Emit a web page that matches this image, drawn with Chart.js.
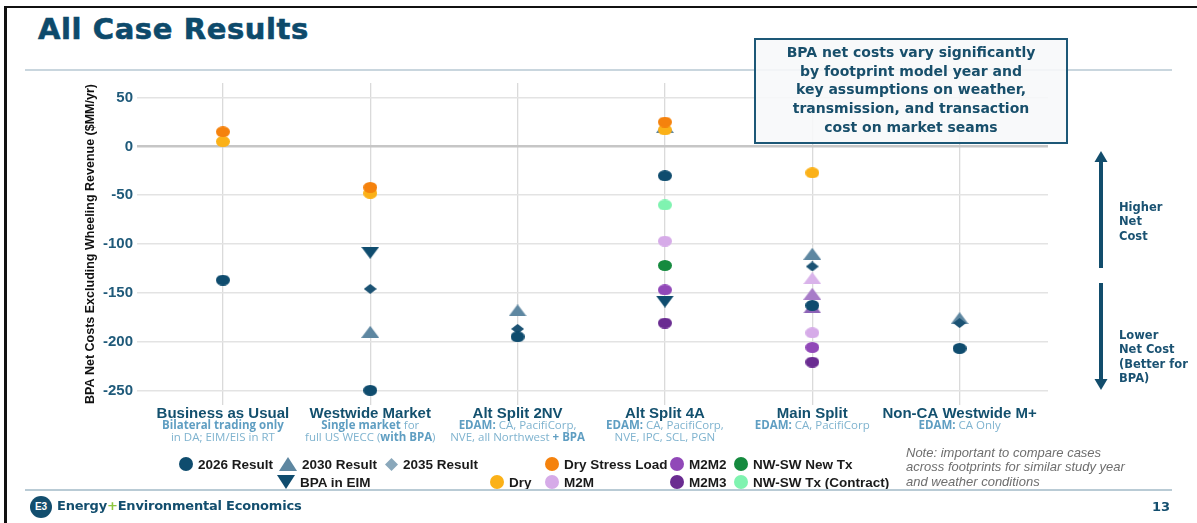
<!DOCTYPE html>
<html>
<head>
<meta charset="utf-8">
<script src="https://cdn.jsdelivr.net/npm/chart.js@4.4.1/dist/chart.umd.min.js"></script>
<style>
  html, body { margin: 0; padding: 0; background: #fff; }
  body { width: 1197px; height: 523px; position: relative; overflow: hidden; font-family: "Liberation Sans", Arial, sans-serif; }
  #frame { position: absolute; left: 4px; top: 6px; width: 1300px; height: 600px; border-left: 3px solid #111; border-top: 2px solid #111; }
  #title { position: absolute; left: 38px; top: 12px; font: bold 29px "DejaVu Sans", sans-serif; color: #0d4a6b; letter-spacing: 0.6px; -webkit-text-stroke: 0.6px #0d4a6b; }
  .rule { position: absolute; height: 2px; background: #c9d6de; }
  #chart { position: absolute; left: 0; top: 0; }
  #box { position: absolute; left: 754px; top: 38px; width: 310px; height: 99px; border: 2px solid #1d5877;
         background: rgba(247,248,249,0.88); font: bold 14px "DejaVu Sans", sans-serif; color: #184f6b;
         text-align: center; line-height: 18.7px; padding-top: 3px; box-sizing: content-box; }
  .side { position: absolute; left: 1119px; font: bold 11.5px "DejaVu Sans", sans-serif; color: #1a5272; line-height: 14.4px; }
  #legend { position: absolute; left: 0; top: 0; }
  .lg { position: absolute; display: flex; align-items: center; font: bold 13.5px "Liberation Sans", Arial, sans-serif; color: #1a1a1a; white-space: nowrap; }
  .lg canvas { margin-right: 5px; }
  #note { position: absolute; left: 906px; top: 446px; font: italic 13px "Liberation Sans", Arial, sans-serif; color: #6e6e6e; line-height: 14.3px; }
  #logo { position: absolute; left: 30px; top: 496px; width: 22px; height: 22px; border-radius: 50%; background: #134e6e;
          color: #fff; font: bold 10px "Liberation Sans", Arial, sans-serif; text-align: center; line-height: 22px; }
  #brand { position: absolute; left: 57px; top: 498px; font: bold 13px "DejaVu Sans", sans-serif; color: #134e6e; letter-spacing: -0.2px; }
  #brand span { color: #8cc540; }
  #page { position: absolute; left: 1152px; top: 499px; font: bold 13px "DejaVu Sans", sans-serif; color: #134e6e; }
</style>
</head>
<body>
<div id="frame"></div>
<div id="title">All Case Results</div>
<div class="rule" style="left:25px; top:69px; width:1147px;"></div>
<canvas id="chart" width="1197" height="523"></canvas>
<div id="box">BPA net costs vary significantly<br>by footprint model year and<br>key assumptions on weather,<br>transmission, and transaction<br>cost on market seams</div>

<svg style="position:absolute; left:1081px; top:145px;" width="40" height="260">
  <line x1="20" y1="14" x2="20" y2="123" stroke="#124d6c" stroke-width="4"/>
  <polygon points="20,6 13.5,17 26.5,17" fill="#124d6c"/>
  <line x1="20" y1="138" x2="20" y2="236" stroke="#124d6c" stroke-width="4"/>
  <polygon points="20,245 13.5,234 26.5,234" fill="#124d6c"/>
</svg>
<div class="side" style="top:200px;">Higher<br>Net<br>Cost</div>
<div class="side" style="top:328px;">Lower<br>Net Cost<br>(Better for<br>BPA)</div>

<div id="legend"></div>
<div id="note">Note: important to compare cases<br>across footprints for similar study year<br>and weather conditions</div>
<div class="rule" style="left:25px; top:489px; width:1147px; height:1.5px; background:#b9cbd5;"></div>
<div id="logo">E3</div>
<div id="brand">Energy<span>+</span>Environmental Economics</div>
<div id="page">13</div>

<script>
// categories (x positions 0..5)
const categories = ['Business as Usual', 'Westwide Market', 'Alt Split 2NV', 'Alt Split 4A', 'Main Split', 'Non-CA Westwide M+'];
// sub labels: [text, bold]
const subtitles = [
  [[['Bilateral trading only', 1]], [['in DA; EIM/EIS in RT', 0]]],
  [[['Single market', 1], [' for', 0]], [['full US WECC (', 0], ['with BPA', 1], [')', 0]]],
  [[['EDAM:', 1], [' CA, PacifiCorp,', 0]], [['NVE, all Northwest ', 0], ['+ BPA', 1]]],
  [[['EDAM:', 1], [' CA, PacifiCorp,', 0]], [['NVE, IPC, SCL, PGN', 0]]],
  [[['EDAM:', 1], [' CA, PacifiCorp', 0]]],
  [[['EDAM:', 1], [' CA Only', 0]]]
];
const yTicks = [50, 0, -50, -100, -150, -200, -250];

// BPA net costs ($MM/yr), one value per category, null = no result
const result2026     = [-137, -250, -195, -30, -163, -207];
const result2030     = [null, -190, -168, 20, -110, -176];
const result2035     = [null, -146, -187, null, -123, -181];
const bpaInEim       = [null, -109, null, -159, null, null];
const dryStressLoad  = [15, -42, null, 25, null, null];
const dry            = [5, -48, null, 17, -27, null];
const m2m            = [null, null, null, -97, -191, null];
const m2m2           = [null, null, null, -147, -206, null];
const m2m3           = [null, null, null, -181, -221, null];
const nwswNewTx      = [null, null, null, -122, null, null];
const nwswContract   = [null, null, null, -60, null, null];
const m2m2030        = [null, null, null, null, -135, null];
const m2m2_2030      = [null, null, null, null, -151, null];
const m2m3_2030      = [null, null, null, null, -165, null];

function marker(shape, color, w, h) {
  const c = document.createElement('canvas');
  c.width = w; c.height = h;
  const g = c.getContext('2d');
  g.fillStyle = color;
  g.beginPath();
  if (shape === 'circle') g.ellipse(w / 2, h / 2, w / 2, h / 2, 0, 0, Math.PI * 2);
  else if (shape === 'up') { g.moveTo(w / 2, 0); g.lineTo(w, h); g.lineTo(0, h); }
  else if (shape === 'down') { g.moveTo(0, 0); g.lineTo(w, 0); g.lineTo(w / 2, h); }
  else { g.moveTo(w / 2, 0); g.lineTo(w, h / 2); g.lineTo(w / 2, h); g.lineTo(0, h / 2); }
  g.closePath();
  g.fill();
  return c;
}
const size = { circle: [14, 11], up: [18, 12], down: [18, 12], diamond: [13, 10] };

// first entry is drawn on top
const series = [
  { values: result2026,    shape: 'circle',  color: '#0f4c6e' },
  { values: result2035,    shape: 'diamond', color: '#1b5273' },
  { values: dryStressLoad, shape: 'circle',  color: '#f5820d' },
  { values: bpaInEim,      shape: 'down',    color: '#0f4c6e' },
  { values: dry,           shape: 'circle',  color: '#fbb118' },
  { values: result2030,    shape: 'up',      color: '#5e87a1' },
  { values: nwswContract,  shape: 'circle',  color: '#7ff3b0' },
  { values: nwswNewTx,     shape: 'circle',  color: '#158a3e' },
  { values: m2m,           shape: 'circle',  color: '#d6abe8' },
  { values: m2m2,          shape: 'circle',  color: '#9148b8' },
  { values: m2m3,          shape: 'circle',  color: '#6a2c91' },
  { values: m2m2030,       shape: 'up',      color: '#d9b3ea' },
  { values: m2m2_2030,     shape: 'up',      color: '#a77cc8' },
  { values: m2m3_2030,     shape: 'up',      color: '#8c62b6' }
];

const datasets = series.map(s => ({
  data: categories.map((c, i) => ({ x: i, y: s.values[i] })).filter(p => p.y !== null),
  pointStyle: marker(s.shape, s.color, size[s.shape][0], size[s.shape][1]),
  pointRadius: 7,
  backgroundColor: s.color,
  borderWidth: 0
}));

function drawSegs(ctx, segs, cx, y) {
  const fonts = ['11.5px "Open Sans"', 'bold 11.5px "Open Sans"'];
  let total = 0;
  segs.forEach(s => { ctx.font = fonts[s[1]]; total += ctx.measureText(s[0]).width; });
  let x = cx - total / 2;
  ctx.textAlign = 'left';
  segs.forEach(s => {
    ctx.font = fonts[s[1]];
    ctx.fillStyle = s[1] ? '#5f9ec2' : '#7fb3cf';
    ctx.fillText(s[0], x, y);
    x += ctx.measureText(s[0]).width;
  });
}

const categoryLabels = {
  id: 'categoryLabels',
  afterDraw(chart) {
    const ctx = chart.ctx;
    const x = chart.scales.x;
    const base = chart.chartArea.bottom;
    ctx.save();
    ctx.textBaseline = 'middle';
    categories.forEach((name, i) => {
      const cx = x.getPixelForValue(i);
      ctx.font = 'bold 15px "Liberation Sans", Arial';
      ctx.fillStyle = '#13506e';
      ctx.textAlign = 'center';
      ctx.fillText(name, cx, base + 9);
      subtitles[i].forEach((segs, j) => drawSegs(ctx, segs, cx, base + 21 + j * 12));
    });
    ctx.restore();
  }
};

new Chart(document.getElementById('chart'), {
  type: 'scatter',
  data: { datasets },
  options: {
    responsive: false,
    animation: false,
    devicePixelRatio: 1,
    layout: { padding: { left: 80, top: 83, right: 149, bottom: 118 } },
    plugins: { legend: { display: false }, tooltip: { enabled: false } },
    scales: {
      x: {
        type: 'linear', min: -0.583, max: 5.6,
        afterBuildTicks: s => { s.ticks = categories.map((c, i) => ({ value: i })); },
        ticks: { display: false },
        grid: { color: '#dadada', lineWidth: 1.3, drawTicks: false },
        border: { display: false },
        afterFit: s => { s.height = 0; }
      },
      y: {
        min: -265, max: 65,
        afterBuildTicks: s => { s.ticks = yTicks.map(v => ({ value: v })); },
        ticks: { color: '#1f5a7a', font: { family: '"Liberation Sans", Arial', size: 15, weight: 'bold' }, padding: 4 },
        grid: {
          color: c => c.tick && c.tick.value === 0 ? '#c6c6c6' : '#e3e3e3',
          lineWidth: c => c.tick && c.tick.value === 0 ? 2.5 : 1.5,
          drawTicks: false
        },
        border: { display: false },
        title: {
          display: true,
          text: 'BPA Net Costs Excluding Wheeling Revenue ($MM/yr)',
          color: '#111',
          font: { family: '"Liberation Sans Narrow", "Liberation Sans", Arial', size: 12.5, weight: 'bold' },
          padding: { top: 3, bottom: 0 }
        },
        afterFit: s => { s.width = 57; }
      }
    }
  },
  plugins: [categoryLabels]
});

// legend
const legendItems = [
  { label: '2026 Result', shape: 'circle', color: '#0f4c6e', x: 179, y: 464 },
  { label: '2030 Result', shape: 'up', color: '#5e87a1', x: 279, y: 464 },
  { label: '2035 Result', shape: 'diamond', color: '#8aa8bb', x: 385, y: 464 },
  { label: 'Dry Stress Load', shape: 'circle', color: '#f5820d', x: 545, y: 464 },
  { label: 'M2M2', shape: 'circle', color: '#9148b8', x: 670, y: 464 },
  { label: 'NW-SW New Tx', shape: 'circle', color: '#158a3e', x: 734, y: 464 },
  { label: 'BPA in EIM', shape: 'down', color: '#0f4c6e', x: 277, y: 482 },
  { label: 'Dry', shape: 'circle', color: '#fbb118', x: 490, y: 482 },
  { label: 'M2M', shape: 'circle', color: '#d6abe8', x: 545, y: 482 },
  { label: 'M2M3', shape: 'circle', color: '#6a2c91', x: 670, y: 482 },
  { label: 'NW-SW Tx (Contract)', shape: 'circle', color: '#7ff3b0', x: 734, y: 482 }
];
const legendSize = { circle: [14, 14], up: [18, 14], down: [18, 14], diamond: [13, 13] };
const legendEl = document.getElementById('legend');
legendItems.forEach(it => {
  const d = document.createElement('div');
  d.className = 'lg';
  d.style.left = it.x + 'px';
  d.style.top = (it.y - 8) + 'px';
  d.style.height = '16px';
  d.appendChild(marker(it.shape, it.color, legendSize[it.shape][0], legendSize[it.shape][1]));
  const t = document.createElement('span');
  t.textContent = it.label;
  d.appendChild(t);
  legendEl.appendChild(d);
});
</script>
</body>
</html>
